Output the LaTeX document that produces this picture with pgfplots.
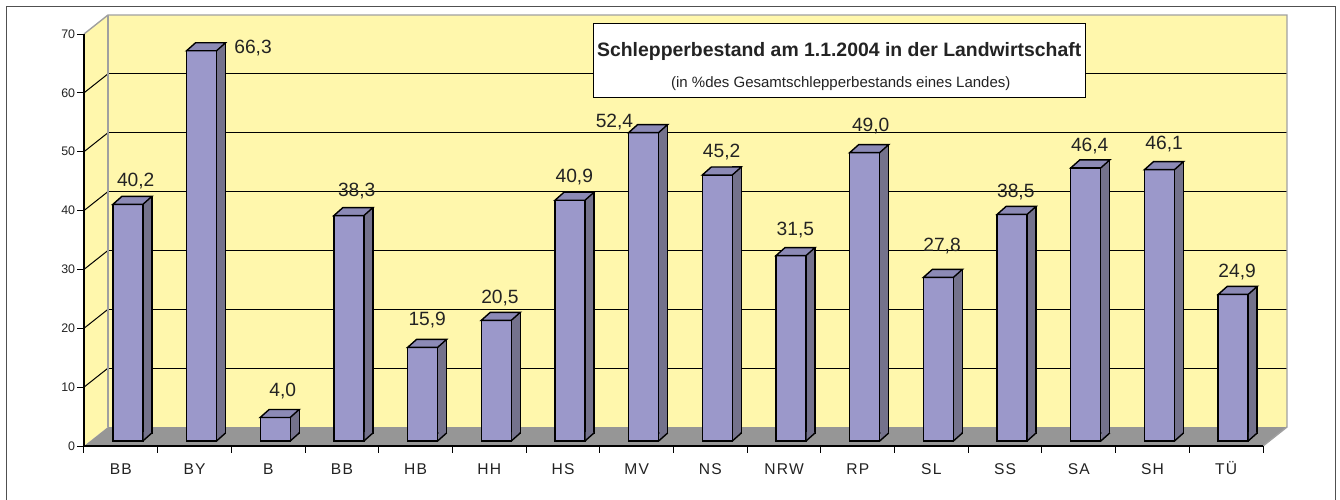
\documentclass[border=0pt]{standalone}
\usepackage{fontspec}
\setmainfont{Liberation Sans}
\usepackage{pgfplots}
\usepackage{pgfplotstable}
\pgfplotsset{compat=1.18}
\definecolor{wall}{RGB}{255,247,172}
\definecolor{floorgray}{RGB}{150,150,150}
\definecolor{barfront}{RGB}{155,152,202}
\definecolor{barside}{RGB}{116,114,140}
\definecolor{bartopc}{RGB}{140,138,182}
\definecolor{wallline}{RGB}{160,160,160}
\definecolor{framec}{RGB}{80,80,80}
\definecolor{txt}{RGB}{35,35,35}

\pgfdeclareplotmark{bartop}{%
  \pgfsetfillcolor{bartopc}%
  \pgfpathmoveto{\pgfqpoint{-7.5pt}{0pt}}%
  \pgfpathlineto{\pgfqpoint{7.5pt}{0pt}}%
  \pgfpathlineto{\pgfqpoint{12pt}{4pt}}%
  \pgfpathlineto{\pgfqpoint{-3pt}{4pt}}%
  \pgfpathclose
  \pgfusepathqfillstroke
}
\pgfdeclareplotmark{barbase}{%
  \pgfsetfillcolor{barside}%
  \pgfpathmoveto{\pgfqpoint{7.85pt}{0.3pt}}%
  \pgfpathlineto{\pgfqpoint{7.85pt}{4.45pt}}%
  \pgfpathlineto{\pgfqpoint{11.65pt}{4.45pt}}%
  \pgfpathlineto{\pgfqpoint{11.65pt}{3.7pt}}%
  \pgfpathclose
  \pgfusepathqfill
  \pgfpathmoveto{\pgfqpoint{7.5pt}{0pt}}%
  \pgfpathlineto{\pgfqpoint{12pt}{4pt}}%
  \pgfusepathqstroke
}

\pgfplotstableread{
x y
0 40.2
1 66.3
2 4.0
3 38.3
4 15.9
5 20.5
6 40.9
7 52.4
8 45.2
9 31.5
10 49.0
11 27.8
12 38.5
13 46.4
14 46.1
15 24.9
}\bardata

% value label: x, y, text, xshift, yshift
\newcommand{\vlab}[5]{%
  \addplot[draw=none, mark=none, nodes near coords={#3},
    every node near coord/.append style={anchor=base, xshift=#4pt, yshift=#5pt, inner sep=0pt,
      font=\fontsize{9.6}{11}\selectfont, text=txt}]
    coordinates {(#1,#2)};}

\begin{document}
\begin{tikzpicture}
\useasboundingbox (-42pt,-26.5pt) rectangle (628pt,223pt);
\draw[framec, line width=0.8pt, fill=white] (-38.75pt,-30pt) rectangle (625.75pt,219.65pt);
% left wall and floor
\fill[wall] (0pt,0pt) -- (0pt,206pt) -- (12pt,215.5pt) -- (12pt,9.5pt) -- cycle;
\fill[floorgray] (0pt,0pt) -- (589.5pt,0pt) -- (601.5pt,9.5pt) -- (12pt,9.5pt) -- cycle;
% back wall with grid
\begin{axis}[at={(12pt,9.5pt)}, anchor=south west, scale only axis,
  width=589.5pt, height=206pt, xmin=-0.5, xmax=15.5, ymin=0, ymax=70,
  axis background/.style={fill=wall},
  xtick=\empty, ytick={10,20,...,60}, yticklabels={},
  ymajorgrids, grid style={black, line width=0.5pt},
  axis line style={draw=none}, major tick length=0pt]
\end{axis}
\foreach \v in {10,20,...,60}
  \draw[black, line width=0.5pt] (0pt,\v*2.942857pt) -- ++(12pt,9.5pt);
\draw[wallline, line width=0.7pt] (0pt,206pt) -- (12pt,215.5pt) -- (601.5pt,215.5pt) -- (601.5pt,9.5pt) -- (589.5pt,0pt);
\draw[wallline, line width=0.7pt] (12pt,9.5pt) -- (12pt,215.5pt);

\begin{axis}[at={(0pt,0pt)}, anchor=south west, scale only axis,
  width=589.5pt, height=206pt,
  xmin=-0.5, xmax=15.5, ymin=0, ymax=70, clip=false,
  axis x line*=bottom, axis y line*=left,
  axis line style={black, line width=0.6pt, -},
  xtick={-0.5,0.5,...,15.5},
  x tick label as interval,
  xticklabels={BB,BY,B,BB,HB,HH,HS,MV,NS,NRW,RP,SL,SS,SA,SH,TÜ},
  ytick={0,10,...,70},
  tick align=outside,
  major tick length=3.25pt,
  every tick/.style={black, line width=0.5pt},
  /pgf/number format/assume math mode=true,
  yticklabel style={font=\fontsize{6.2}{7}\selectfont, text=txt, anchor=east, inner sep=0pt, xshift=-1pt},
  xticklabel style={font=\fontsize{7.8}{9}\selectfont\addfontfeatures{LetterSpace=8}, text=txt, anchor=base, inner sep=0pt, yshift=-10.8pt},
]
\addplot[ybar, bar width=4.5pt, bar shift=9.75pt, fill=barside, draw=black, line width=0.7pt, xshift=3.5pt, yshift=6.5pt] table[x=x,y=y]{\bardata};
\addplot[ybar, bar width=15pt, bar shift=0pt, fill=barfront, draw=black, line width=0.7pt, xshift=3.5pt, yshift=2.5pt] table[x=x,y=y]{\bardata};
\addplot[only marks, mark=bartop, black, line width=0.7pt, xshift=3.5pt, yshift=2.5pt] table[x=x,y=y]{\bardata};
\addplot[only marks, mark=barbase, black, line width=0.7pt, xshift=3.5pt, yshift=2.5pt] coordinates {(0,0) (1,0) (2,0) (3,0) (4,0) (5,0) (6,0) (7,0) (8,0) (9,0) (10,0) (11,0) (12,0) (13,0) (14,0) (15,0)};
\vlab{0}{40.2}{40,2}{7.45}{11.65}
\vlab{1}{66.3}{66,3}{29.25}{1.25}
\vlab{2}{4.0}{4,0}{7.25}{13}
\vlab{3}{38.3}{38,3}{7.4}{12.15}
\vlab{4}{15.9}{15,9}{5.8}{13.5}
\vlab{5}{20.5}{20,5}{5.35}{10.85}
\vlab{6}{40.9}{40,9}{5.65}{11.3}
\vlab{7}{52.4}{52,4}{-11.1}{5.15}
\vlab{8}{45.2}{45,2}{5.65}{11.3}
\vlab{9}{31.5}{31,5}{5.65}{12.35}
\vlab{10}{49.0}{49,0}{6.5}{13.3}
\vlab{11}{27.8}{27,8}{5.3}{15.5}
\vlab{12}{38.5}{38,5}{5.35}{10.85}
\vlab{13}{46.4}{46,4}{5.45}{10.85}
\vlab{14}{46.1}{46,1}{5.85}{12.5}
\vlab{15}{24.9}{24,9}{5.5}{10.85}
\end{axis}

\node[draw=black, fill=white, line width=0.5pt, minimum width=246pt, minimum height=37.2pt, anchor=north west, inner sep=0pt] at (254.5pt,211.65pt) {};
\node[anchor=base, inner sep=0pt, font=\bfseries\fontsize{9.7}{12}\selectfont, text=txt] at (377.6pt,194.5pt) {Schlepperbestand am 1.1.2004 in der Landwirtschaft};
\node[anchor=base, inner sep=0pt, font=\fontsize{7.5}{9}\selectfont, text=txt] at (378.4pt,179pt) {(in \%des Gesamtschlepperbestands eines Landes)};
\end{tikzpicture}
\end{document}
